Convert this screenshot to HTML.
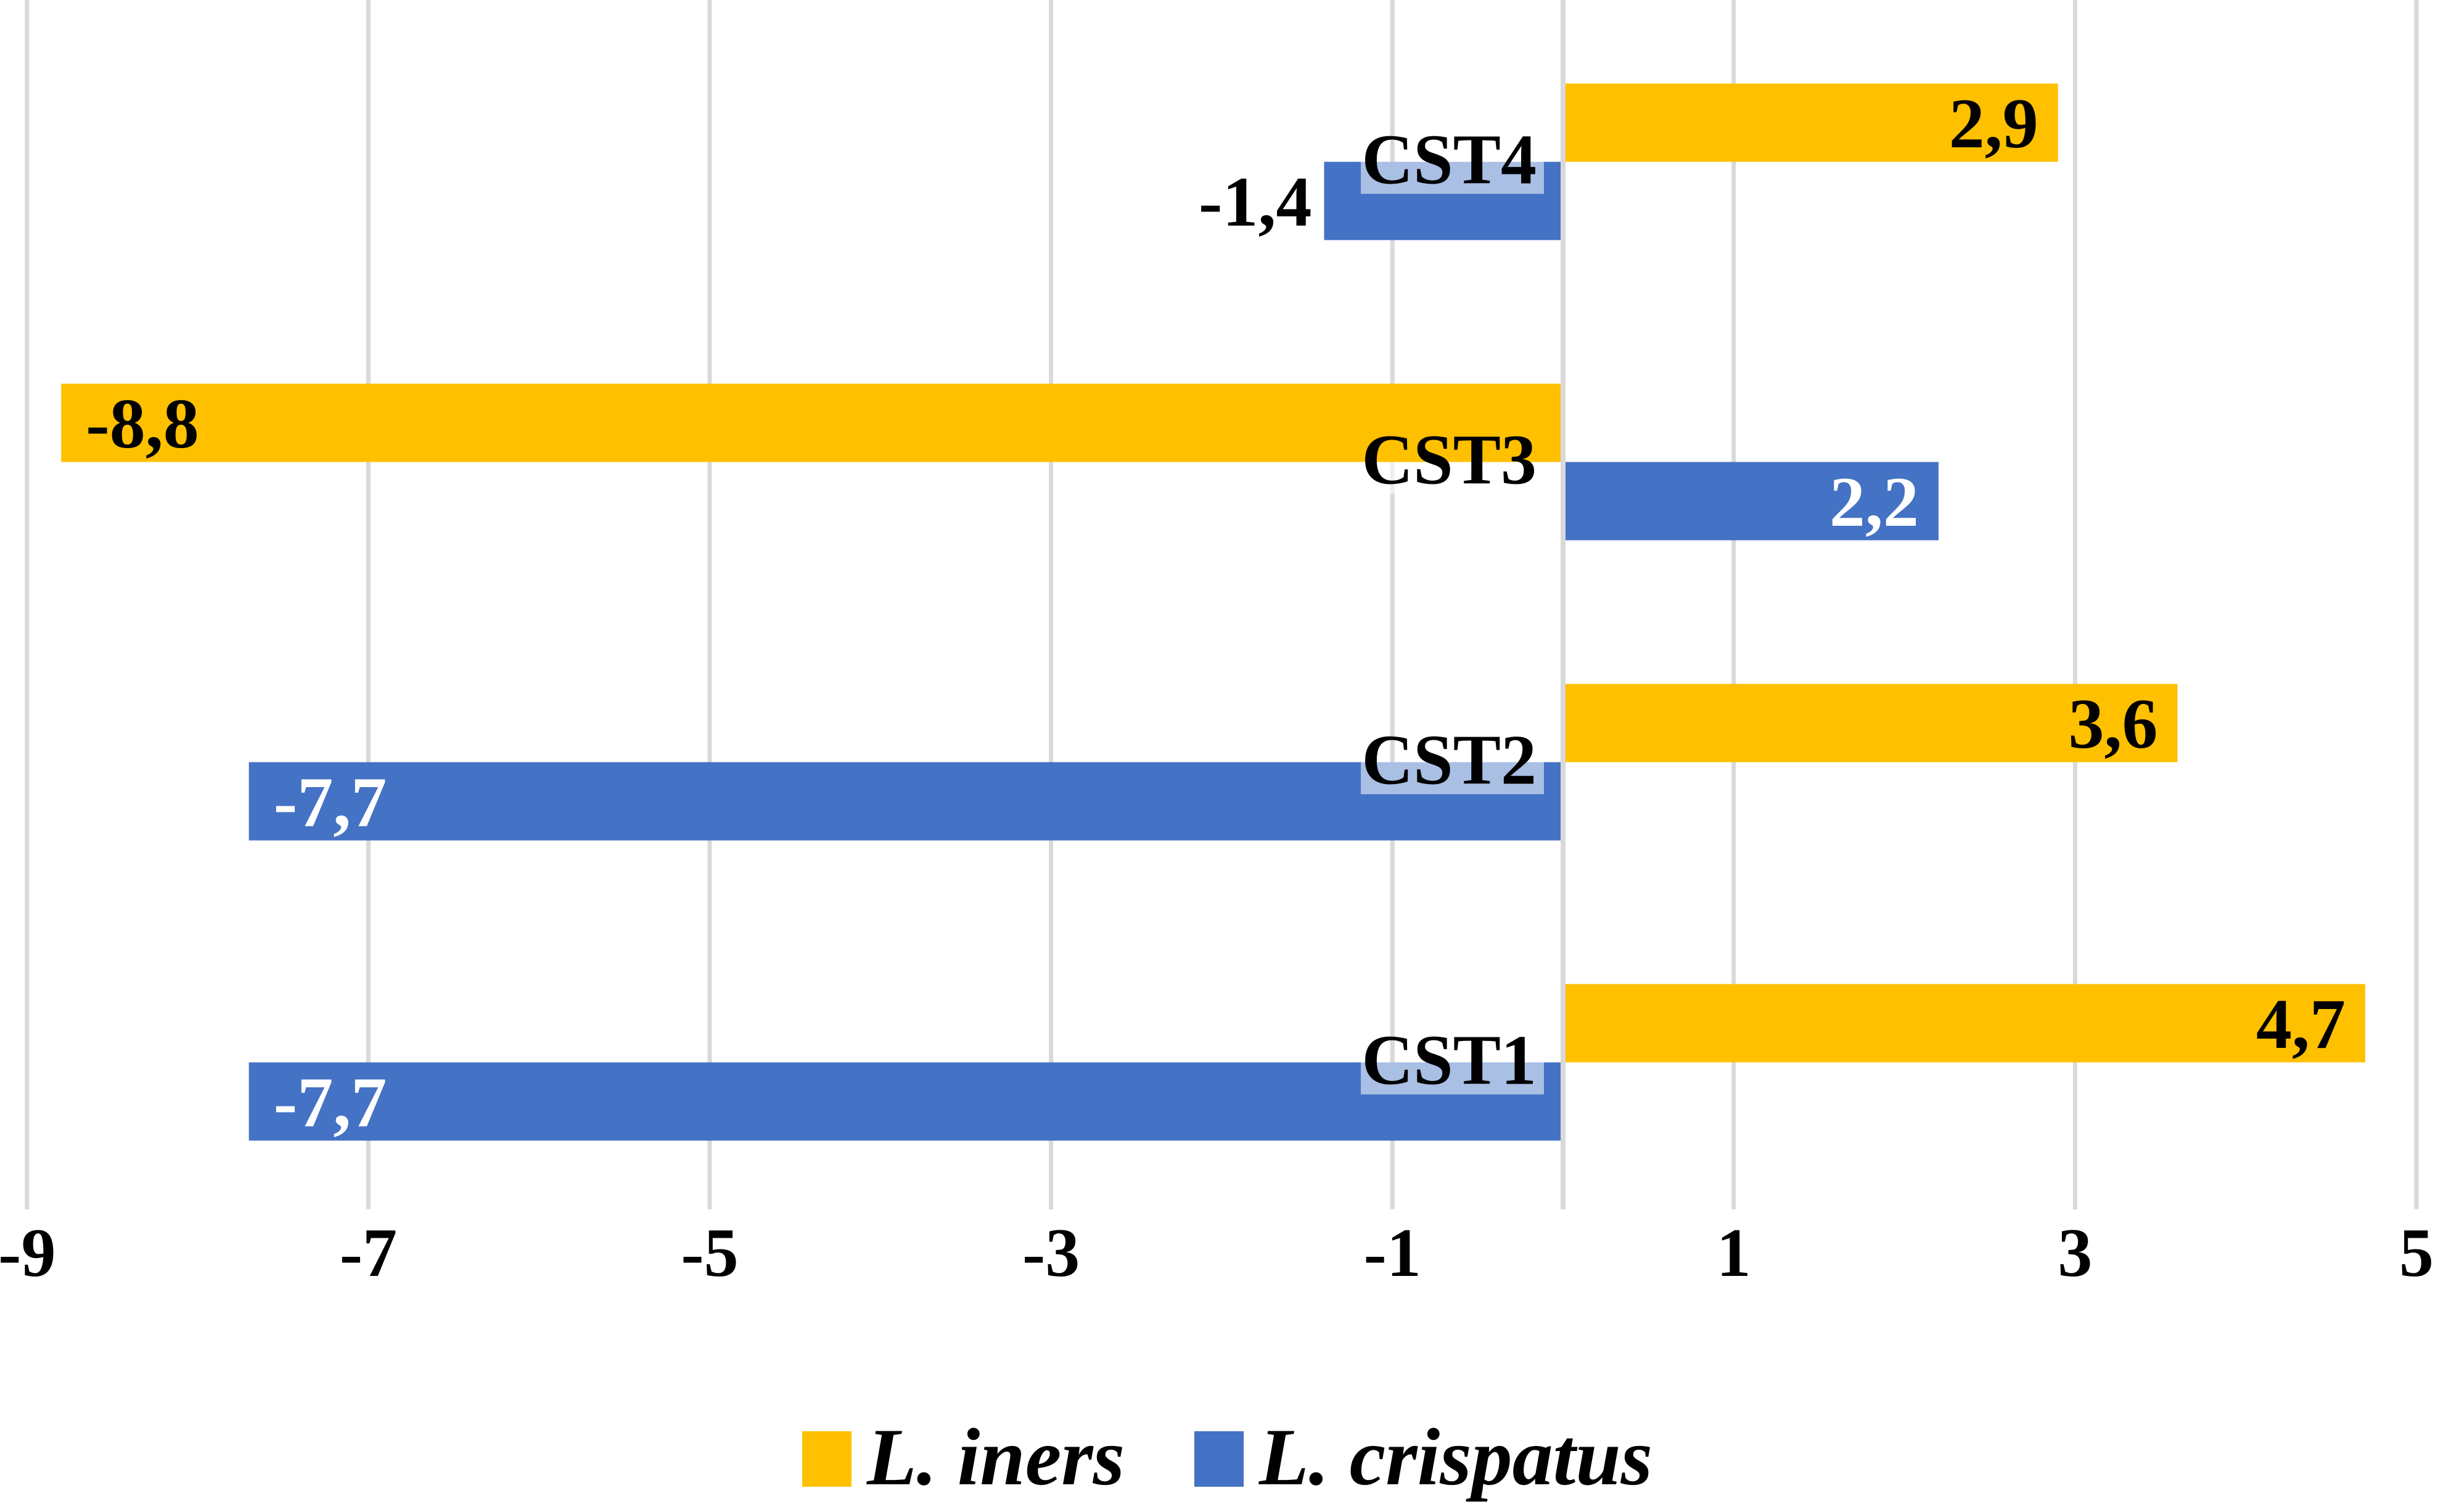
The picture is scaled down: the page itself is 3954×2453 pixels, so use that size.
<!DOCTYPE html>
<html><head><meta charset="utf-8"><style>
html,body{margin:0;padding:0;background:#fff;}
svg{display:block;font-family:"Liberation Serif",serif;font-weight:bold;}
</style></head><body>
<svg id="chart" width="3954" height="2453" viewBox="0 0 3954 2453" xmlns="http://www.w3.org/2000/svg">
<g id="grid"></g>
<g id="bars"></g>
<g id="labels"></g>
<g id="cats"></g>
<g id="ticks"></g>
<g>
  <rect x="1301" y="2322" width="80" height="90" fill="#FFC000"/>
  <text x="1406" y="2408" font-size="132" font-style="italic">L. iners</text>
  <rect x="1937" y="2322" width="80" height="90" fill="#4472C4"/>
  <text x="2042" y="2408" font-size="132" font-style="italic">L. crispatus</text>
</g>
</svg>
<script>
const categories = ["CST1","CST2","CST3","CST4"];
const inersValues = [4.7, 3.6, -8.8, 2.9];
const crispatusValues = [-7.7, -7.7, 2.2, -1.4];
const inersLabels = ["4,7","3,6","-8,8","2,9"];
const crispatusLabels = ["-7,7","-7,7","2,2","-1,4"];
const tickValues = [-9,-7,-5,-3,-1,1,3,5];
const tickLabels = ["-9","-7","-5","-3","-1","1","3","5"];

const NS="http://www.w3.org/2000/svg";
const X0=2535, UNIT=276.8;
function x(v){return X0+v*UNIT;}
const bandTop=19, band=487;
function boundaryY(i){return bandTop+band*(categories.length-1-i)+band/2;}
const BH=127;
function mk(tag,attrs,parent){const e=document.createElementNS(NS,tag);for(const k in attrs)e.setAttribute(k,attrs[k]);parent.appendChild(e);return e;}
const grid=document.getElementById('grid'),bars=document.getElementById('bars'),labels=document.getElementById('labels'),cats=document.getElementById('cats'),ticks=document.getElementById('ticks');

tickValues.forEach((v,i)=>{
  const l=mk('line',{x1:x(v),x2:x(v),y1:0,y2:1962,stroke:'#d9d9d9','stroke-width':7},grid);
  
  
  const t=mk('text',{x:x(v),y:2070,'font-size':112,'text-anchor':'middle'},ticks);
  t.textContent=tickLabels[i];
  
  
});
const ax=mk('line',{x1:x(0),x2:x(0),y1:0,y2:1962,stroke:'#d9d9d9','stroke-width':8},grid);



function bar(v,y,color,name){
  const a=Math.min(x(v),x(0)),b=Math.max(x(v),x(0));
  const r=mk('rect',{x:v>=0?a+4:a,y:y,width:b-a-4,height:BH,fill:color},bars);
  
  
}
function lab(txt,v,y,fill,inside,name){
  let tx,anchor;
  if(inside){ if(v>=0){tx=x(v)-32;anchor='end';}else{tx=x(v)+40;anchor='start';} }
  else { if(v>=0){tx=x(v)+20;anchor='start';}else{tx=x(v)-20;anchor='end';} }
  const t=mk('text',{x:tx,y:y+BH/2+40,'font-size':116,'text-anchor':anchor,fill:fill},labels);
  t.textContent=txt;
  
  
}
categories.forEach((c,i)=>{
  const by=boundaryY(i);
  bar(inersValues[i],by-BH,'#FFC000','bar-l-iners-'+c.toLowerCase());
  bar(crispatusValues[i],by,'#4472C4','bar-l-crispatus-'+c.toLowerCase());
  lab(inersLabels[i],inersValues[i],by-BH,'#000',true,'value-l-iners-'+c.toLowerCase());
  const small=Math.abs(crispatusValues[i])<2;
  lab(crispatusLabels[i],crispatusValues[i],by,small?'#000':'#fff',!small,'value-l-crispatus-'+c.toLowerCase());
  const bx=mk('rect',{x:2207,y:by,width:297,height:52,fill:'#fff','fill-opacity':0.55},cats);
  
  
  const t=mk('text',{x:2492,y:by+35,'font-size':116,'text-anchor':'end'},cats);
  t.textContent=c;
  
  
});
</script>
</body></html>
